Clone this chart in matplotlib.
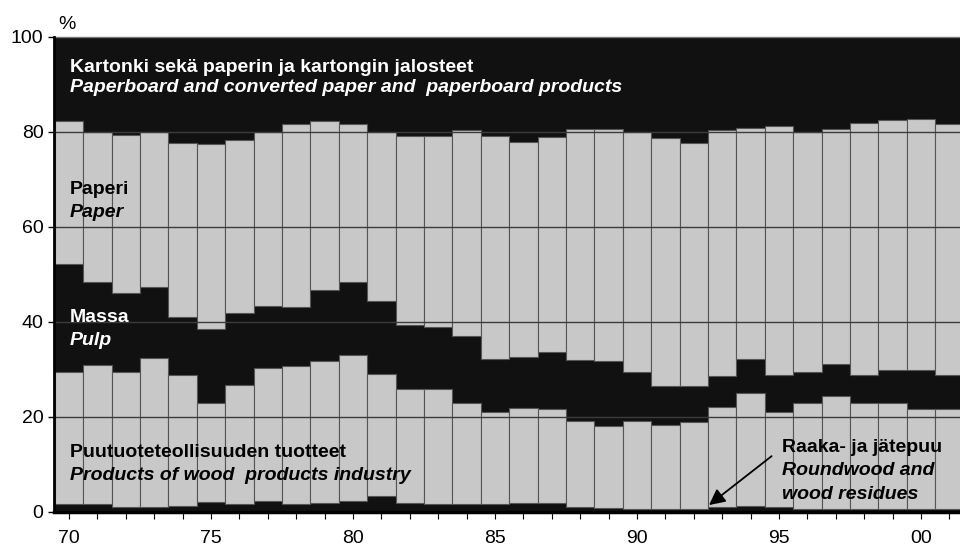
import matplotlib
matplotlib.use('Agg')
import matplotlib.pyplot as plt
from matplotlib import font_manager
from matplotlib.ticker import FixedLocator, FuncFormatter
import numpy as np

# Data (shares of export value, %), bottom layer first
years = list(range(1970, 2002))
raaka = [1.6, 1.6, 0.9, 0.9, 1.2, 2.0, 1.6, 2.3, 1.6, 1.8, 2.3, 3.3, 1.9, 1.6, 1.6, 1.6,
         1.9, 1.8, 0.9, 0.8, 0.6, 0.6, 0.6, 1.0, 1.3, 0.9, 0.6, 0.6, 0.6, 0.6, 0.6, 0.6]
puutuote = [27.8, 29.2, 28.6, 31.4, 27.6, 20.9, 25.1, 28.0, 29.1, 29.9, 30.7, 25.7, 24.0, 24.3, 21.3, 19.4,
            19.9, 19.8, 18.3, 17.2, 18.5, 17.7, 18.3, 21.0, 23.7, 20.1, 22.3, 23.8, 22.3, 22.3, 21.0, 21.0]
massa = [22.7, 17.6, 16.5, 15.1, 12.1, 15.5, 15.1, 13.1, 12.5, 15.0, 15.4, 15.3, 13.5, 13.0, 14.1, 11.2,
         10.8, 12.1, 12.7, 13.7, 10.4, 8.2, 7.6, 6.6, 7.1, 7.8, 6.6, 6.7, 5.9, 6.9, 8.2, 7.2]
paperi = [30.2, 31.5, 33.4, 32.5, 36.7, 39.0, 36.5, 36.5, 38.4, 35.6, 33.3, 35.6, 39.8, 40.3, 43.4, 46.9,
          45.2, 45.2, 48.6, 48.8, 50.4, 52.2, 51.2, 51.8, 48.7, 52.4, 50.4, 49.5, 53.0, 52.6, 52.8, 52.8]
kartonki = [17.7, 20.1, 20.6, 20.1, 22.4, 22.6, 21.7, 20.1, 18.4, 17.7, 18.3, 20.1, 20.8, 20.8, 19.6, 20.9,
            22.2, 21.1, 19.5, 19.5, 20.1, 21.3, 22.3, 19.6, 19.2, 18.8, 20.1, 19.4, 18.2, 17.6, 17.4, 18.4]

BLACK = '#111111'
GRAY = '#c8c8c8'

names = {f.name for f in font_manager.fontManager.ttflist}
if 'Liberation Sans Narrow' in names:
    FONT = 'Liberation Sans Narrow'
    fs_txt, fs_tick = 15, 15
else:
    FONT = 'Liberation Sans'
    fs_txt, fs_tick = 14, 14
plt.rcParams['font.family'] = [FONT, 'DejaVu Sans']

fig = plt.figure(figsize=(9.6, 5.48), dpi=100)
ax = fig.add_axes([0.05625, 0.0662, 0.94375, 0.8668])

layers = [(raaka, BLACK), (puutuote, GRAY), (massa, BLACK), (paperi, GRAY), (kartonki, BLACK)]
bottom = np.zeros(len(years))
for vals, col in layers:
    vals = np.array(vals)
    if col == GRAY:
        ax.bar(years, vals, width=1.0, bottom=bottom, color=col, edgecolor='#555555',
               linewidth=0.8, zorder=2)
    else:
        ax.bar(years, vals, width=1.0, bottom=bottom, color=col, edgecolor=col,
               linewidth=1.0, antialiased=False, zorder=1)
    bottom += vals

for g in [20, 40, 60, 80]:
    ax.axhline(g, color='#3c3c3c', lw=1.0, zorder=3)

ax.set_xlim(1969.472, 2001.373)
ax.set_ylim(0, 100)
ax.set_yticks([0, 20, 40, 60, 80, 100])
ax.xaxis.set_major_locator(FixedLocator(years))
ax.xaxis.set_major_formatter(FuncFormatter(lambda v, p: '%02d' % (int(round(v)) % 100) if int(round(v)) % 5 == 0 else ''))
ax.tick_params(axis='y', direction='out', length=4.5, width=1, pad=3, labelsize=fs_tick)
ax.tick_params(axis='x', direction='out', length=5, width=0.8, pad=8, labelsize=fs_tick)

ax.spines['right'].set_visible(False)
ax.spines['top'].set_color('#777777')
ax.spines['top'].set_linewidth(1)
ax.spines['left'].set_linewidth(2)
ax.spines['bottom'].set_linewidth(2.5)
ax.spines['left'].set_zorder(5)
ax.spines['bottom'].set_zorder(5)

ax.text(1969.61, 101.6, '%', fontsize=fs_tick, va='baseline', ha='left', clip_on=False)

tx = 1970.035
labels = [
    ('Kartonki sekä paperin ja kartongin jalosteet', 92.63, 'normal', 'white'),
    ('Paperboard and converted paper and  paperboard products', 88.42, 'italic', 'white'),
    ('Paperi', 66.9, 'normal', 'black'),
    ('Paper', 62.1, 'italic', 'black'),
    ('Massa', 40.0, 'normal', 'white'),
    ('Pulp', 35.1, 'italic', 'white'),
    ('Puutuoteteollisuuden tuotteet', 11.45, 'normal', 'black'),
    ('Products of wood  products industry', 6.67, 'italic', 'black'),
]
for s, y, st, c in labels:
    ax.text(tx, y, s, fontsize=fs_txt, fontweight='bold', fontstyle=st, color=c,
            va='baseline', ha='left', zorder=6)

rx = 1995.09
ax.text(rx, 12.5, 'Raaka- ja jätepuu', fontsize=fs_txt, fontweight='bold', color='black',
        va='baseline', zorder=6)
ax.text(rx, 7.73, 'Roundwood and', fontsize=fs_txt, fontweight='bold', fontstyle='italic',
        color='black', va='baseline', zorder=6)
ax.text(rx, 2.67, 'wood residues', fontsize=fs_txt, fontweight='bold', fontstyle='italic',
        color='black', va='baseline', zorder=6)
ax.annotate('', xy=(1992.535, 1.4), xytext=(1994.74, 11.7),
            arrowprops=dict(arrowstyle='-|>', color='black', lw=1.3, mutation_scale=24,
                            shrinkA=0, shrinkB=0), zorder=6)

fig.savefig('out.png', dpi=100)
